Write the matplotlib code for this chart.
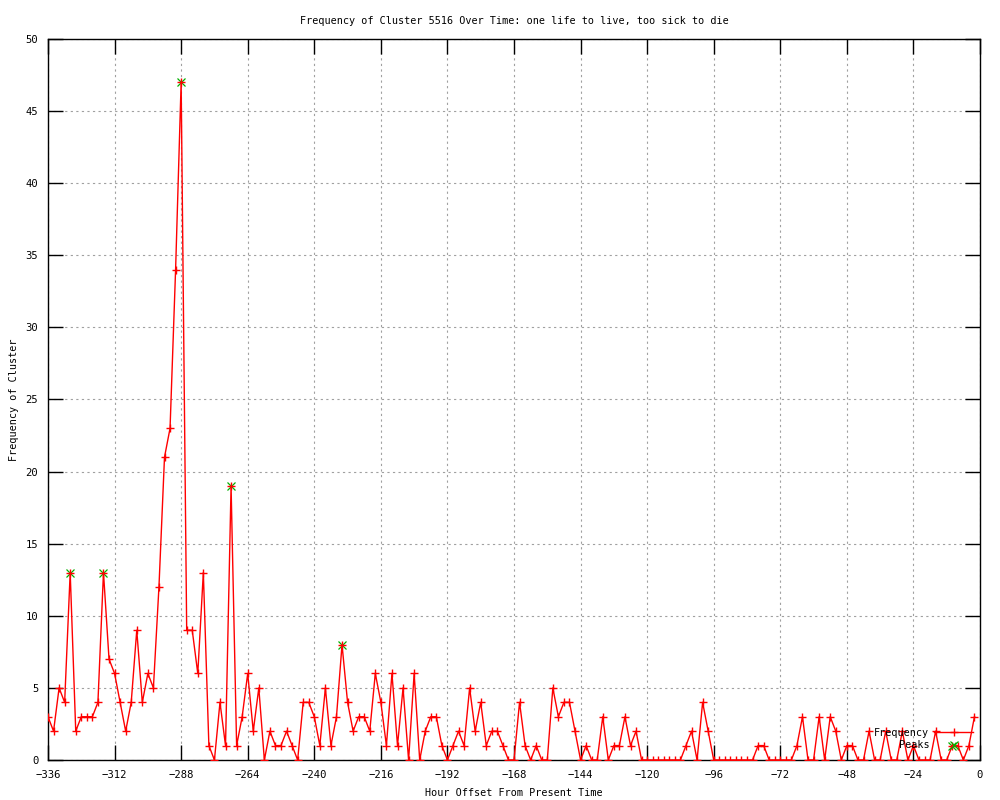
import numpy as np
import matplotlib
matplotlib.use('Agg')
import matplotlib.pyplot as plt

#hour offsets, one reading every 2 hours from -336 up to -2
hours = list(range(-336, 0, 2))

#cluster frequency read for each hour above (20 per row)
freq = [3, 2, 5, 4, 13, 2, 3, 3, 3, 4, 13, 7, 6, 4, 2, 4, 9, 4, 6, 5,
	12, 21, 23, 34, 47, 9, 9, 6, 13, 1, 0, 4, 1, 19, 1, 3, 6, 2, 5, 0,
	2, 1, 1, 2, 1, 0, 4, 4, 3, 1, 5, 1, 3, 8, 4, 2, 3, 3, 2, 6,
	4, 1, 6, 1, 5, 0, 6, 0, 2, 3, 3, 1, 0, 1, 2, 1, 5, 2, 4, 1,
	2, 2, 1, 0, 0, 4, 1, 0, 1, 0, 0, 5, 3, 4, 4, 2, 0, 1, 0, 0,
	3, 0, 1, 1, 3, 1, 2, 0, 0, 0, 0, 0, 0, 0, 0, 1, 2, 0, 4, 2,
	0, 0, 0, 0, 0, 0, 0, 0, 1, 1, 0, 0, 0, 0, 0, 1, 3, 0, 0, 3,
	0, 3, 2, 0, 1, 1, 0, 0, 2, 0, 0, 2, 0, 0, 2, 0, 1, 0, 0, 0,
	2, 0, 0, 1, 1, 0, 1, 3]

#peaks picked out by the detector
peakHours = [-328, -316, -288, -270, -230, -10]
peakFreq = [13, 13, 47, 19, 8, 1]

xTicks = list(range(-336, 1, 24))
yTicks = list(range(0, 51, 5))

titleText = 'Frequency of Cluster 5516 Over Time: one life to live, too sick to die'

plt.rcParams['font.family'] = ['DejaVu Sans Mono']
plt.rcParams['font.size'] = 7.3

fig = plt.figure(figsize=(10, 8), dpi=100)
ax = fig.add_axes([0.048, 0.05, 0.932, 0.9013])

#gnuplot look: red line with + markers, green x for peaks
ax.plot(hours, freq, color='#ff0000', linewidth=1, marker='+', markersize=6,
	markeredgewidth=1, label='Frequency', zorder=3)
ax.plot(peakHours, peakFreq, linestyle='none', color='#00b000', marker='x',
	markersize=5.5, markeredgewidth=0.9, label='Peaks', zorder=2.5)

ax.set_xlim(-336, 0)
ax.set_ylim(0, 50)
ax.set_xticks(xTicks)
ax.set_yticks(yTicks)
ax.grid(True, color='#a0a0a0', linestyle=(0, (2, 3)), linewidth=0.8)
ax.tick_params(direction='in', length=11, width=1, top=True, right=True, pad=7,
	labelsize=7.6)
for spine in ax.spines.values():
	spine.set_linewidth(1)

ax.set_title(titleText, pad=11, fontsize=7.3)
ax.set_xlabel('Hour Offset From Present Time', labelpad=6)
ax.set_ylabel('Frequency of Cluster', labelpad=5)

#key sits in the lower right corner, no box, text before sample
ax.legend(loc='lower right', bbox_to_anchor=(0.999, 0.005), frameon=False,
	markerfirst=False, numpoints=1, handlelength=3.8, handletextpad=0.5,
	labelspacing=0.25, borderaxespad=0.2)

plt.savefig('out.png', dpi=100)
